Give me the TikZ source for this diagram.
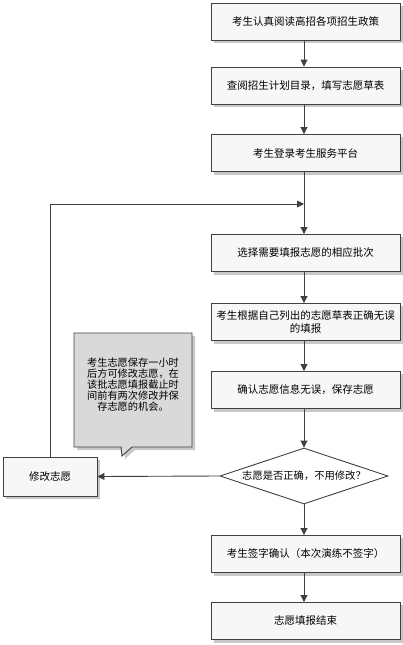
\documentclass[tikz,border=0pt]{standalone}
\usepackage{fontspec}
\setmainfont{Noto Sans CJK SC}
\usetikzlibrary{shapes.geometric,arrows.meta}
\definecolor{linecol}{HTML}{404040}
\definecolor{boxfill}{HTML}{F7F7F7}
\definecolor{shadowcol}{HTML}{C8C8C8}
\definecolor{notefill}{HTML}{D9D9D9}
\tikzset{
  stepbox/.style={draw=linecol, line width=0.9pt, fill=boxfill, minimum width=189pt, minimum height=37pt,
    inner sep=0pt, align=center, font=\fontsize{10.5}{12.5}\selectfont},
  flow/.style={draw=linecol, line width=0.9pt, -{Triangle[length=7pt,width=7pt]}},
  decision/.style={draw=linecol, line width=0.9pt, fill=white, diamond, aspect=3, minimum width=168pt,
    minimum height=56pt, inner sep=0pt, font=\fontsize{10.3}{12}\selectfont},
}
\begin{document}
\begin{tikzpicture}[x=1pt,y=-1pt]
\useasboundingbox (0,0) rectangle (403,645);
% shadows
\foreach \ya/\yb in {3/40,67/104,134/172,234/272,303/341,371/409,535/573,602/640}{
  \fill[shadowcol] (214,\ya+3) rectangle (403,\yb+3);
}
\fill[shadowcol] (6,460) rectangle (100,499);
\fill[shadowcol] (77,336) -- (195,336) -- (195,450) -- (135,450) -- (125,459) -- (124,450) -- (77,450) -- cycle;
% main boxes
\node[stepbox] (b1) at (305.5,21.5) {考生认真阅读高招各项招生政策};
\node[stepbox] (b2) at (305.5,85.5) {查阅招生计划目录，填写志愿草表};
\node[stepbox] (b3) at (305.5,153) {考生登录考生服务平台};
\node[stepbox] (b4) at (305.5,253) {选择需要填报志愿的相应批次};
\node[stepbox] (b5) at (305.5,322) {考生根据自己列出的志愿草表正确无误\\的填报};
\node[stepbox] (b6) at (305.5,390) {确认志愿信息无误，保存志愿};
\node[decision] (d) at (304,476) {志愿是否正确，不用修改？};
\node[stepbox] (b7) at (305.5,554) {考生签字确认（本次演练不签字）};
\node[stepbox] (b8) at (305.5,621) {志愿填报结束};
\node[stepbox, minimum width=94pt, minimum height=39pt] (m) at (50,476.5) {修改志愿};
% callout
\draw[draw=linecol, line width=0.9pt, fill=notefill] (74,333) -- (192,333) -- (192,447) -- (132,447) -- (122,456) -- (121,447) -- (74,447) -- cycle;
\node[align=center, font=\fontsize{10.2}{11}\selectfont, inner sep=0pt] (note) at (133,385)
  {考生志愿保存一小时\\后方可修改志愿，在\\该批志愿填报截止时\\间前有两次修改并保\\存志愿的机会。};
% connectors
\coordinate (j) at (304,204);
\draw[flow] (b1.south -| 304,0) -- (b2.north -| 304,0);
\draw[flow] (b2.south -| 304,0) -- (b3.north -| 304,0);
\draw[flow] (b3.south -| 304,0) -- (b4.north -| 304,0);
\draw[flow] (b4.south -| 304,0) -- (b5.north -| 304,0);
\draw[flow] (b5.south -| 304,0) -- (b6.north -| 304,0);
\draw[flow] (b6.south -| 304,0) -- (d.north);
\draw[flow] (d.south) -- (b7.north -| 304,0);
\draw[flow] (b7.south -| 304,0) -- (b8.north -| 304,0);
\draw[flow] (d.west) -- (m.east);
\draw[flow] (m.north) -- (50,204) -- (j);
\end{tikzpicture}
\end{document}
